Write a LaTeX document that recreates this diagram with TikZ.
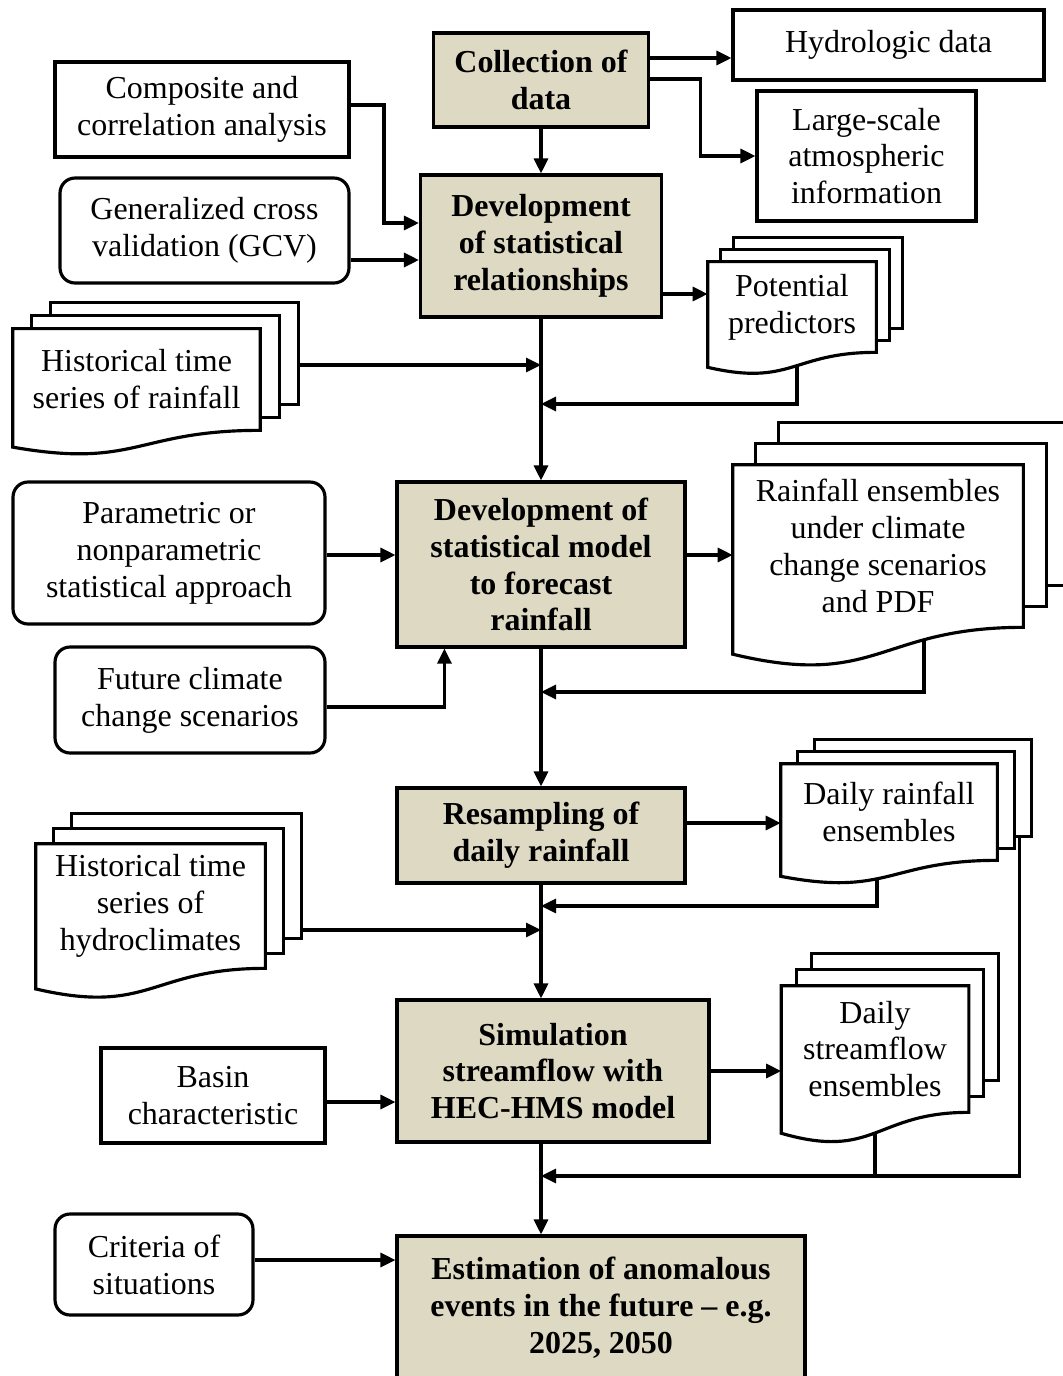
\documentclass[tikz,border=0pt]{standalone}
\usepackage{fontspec}
\setmainfont{Liberation Serif}
\usetikzlibrary{arrows.meta,calc}
\definecolor{boxtan}{RGB}{221,217,195}
\pgfdeclarelayer{back}
\pgfdeclarelayer{background}
\pgfsetlayers{back,background,main}
\newcommand{\docstack}[3]{%
  \begin{pgfonlayer}{background}
    \foreach \k in {2,1} {
      \draw [docline,fill=white] ([shift={(\k*#2,-\k*#3)}]#1.north west) rectangle ([shift={(\k*#2,-\k*#3)}]#1.south east);
    }
    \draw [docline,fill=white] let \p1=(#1.north), \p2=(#1.south), \n1={\y1-\y2} in
      (#1.south west) -- (#1.north west) -- (#1.north east) -- (#1.south east)
      .. controls (#1.south) and ($(#1.south)+(0,-0.38*\n1)$) .. ($(#1.south west)+(0,-0.165*\n1)$) -- cycle;
  \end{pgfonlayer}
  \coordinate (#1 back) at ([shift={(2*#2,-2*#3)}]#1.south east);
}
\begin{document}
\begin{tikzpicture}[x=0.02cm,y=-0.02cm,
   every node/.style={font=\fontsize{18.2}{21}\selectfont,align=center,inner sep=0pt},
   mainbox/.style={draw,fill=boxtan,line width=1.8pt,font=\fontsize{18.2}{21}\selectfont\bfseries},
   sidebox/.style={draw,fill=white,line width=1.8pt},
   roundbox/.style={sidebox,rounded corners=0.3cm},
   docbox/.style={},
   docline/.style={line width=1.8pt},
   flow/.style={line width=1.8pt,-{Triangle[length=0.3cm,width=0.28cm]}},
   link/.style={line width=1.8pt}]
   \useasboundingbox (0,0) rectangle (1062,1376);
   \node [mainbox,minimum width=4.3cm,minimum height=1.88cm] (coll) at (541,80) {Collection of\\data};
   \node [mainbox,minimum width=4.82cm,minimum height=2.84cm] (devrel) at (541,246) {Development\\of statistical\\relationships};
   \node [mainbox,minimum width=5.76cm,minimum height=3.3cm] (devmod) at (541,564.5) {Development of\\statistical model\\to forecast\\rainfall};
   \node [mainbox,minimum width=5.76cm,minimum height=1.9cm] (resamp) at (541,835.5) {Resampling of\\daily rainfall};
   \node [mainbox,minimum width=6.24cm,minimum height=2.84cm] (simul) at (553,1071) {Simulation\\streamflow with\\HEC-HMS model};
   \node [mainbox,minimum width=8.16cm,minimum height=2.88cm] (est) at (601,1308) {Estimation of anomalous\\events in the future -- e.g.\\2025, 2050};
   \node [sidebox,minimum width=6.22cm,minimum height=1.4cm] (hydro) at (888.5,45) {Hydrologic data};
   \node [sidebox,minimum width=4.38cm,minimum height=2.6cm] (atmos) at (866.5,156) {Large-scale\\atmospheric\\information};
   \node [sidebox,minimum width=5.88cm,minimum height=1.9cm] (compo) at (202,109.5) {Composite and\\correlation analysis};
   \node [roundbox,minimum width=5.78cm,minimum height=2.1cm] (gcv) at (204.5,230.5) {Generalized cross\\validation (GCV)};
   \node [roundbox,minimum width=6.24cm,minimum height=2.84cm] (param) at (169,553) {Parametric or\\nonparametric\\statistical approach};
   \node [roundbox,minimum width=5.4cm,minimum height=2.12cm] (future) at (190,700) {Future climate\\change scenarios};
   \node [sidebox,minimum width=4.48cm,minimum height=1.9cm] (basin) at (213,1095.5) {Basin\\characteristic};
   \node [roundbox,minimum width=3.96cm,minimum height=2.02cm] (crit) at (154,1264.5) {Criteria of\\situations};
   \node [docbox,minimum width=4.94cm,minimum height=2.02cm] (histrain) at (136.5,379.5) {Historical time\\series of rainfall};
   \node [docbox,minimum width=3.36cm,minimum height=1.8cm] (potpred) at (792,307) {Potential\\predictors};
   \node [docbox,minimum width=5.8cm,minimum height=3.24cm] (rainens) at (878,546) {Rainfall ensembles\\under climate\\change scenarios\\and PDF};
   \node [docbox,minimum width=4.32cm,minimum height=1.92cm] (dailyrain) at (889,812) {Daily rainfall\\ensembles};
   \node [docbox,minimum width=4.58cm,minimum height=2.48cm] (histhydro) at (150.5,906) {Historical time\\series of\\hydroclimates};
   \node [docbox,minimum width=3.74cm,minimum height=2.52cm] (dailyflow) at (875,1049) {Daily\\streamflow\\ensembles};
   \docstack{histrain}{19}{13}
   \docstack{potpred}{13}{12}
   \docstack{rainens}{23}{21}
   \docstack{dailyrain}{17}{12}
   \docstack{histhydro}{18}{15}
   \docstack{dailyflow}{15}{16}
   \coordinate (j1) at (541,365);
   \coordinate (j2) at (541,404);
   \coordinate (j3) at (541,692);
   \coordinate (j4) at (541,906);
   \coordinate (j5) at (541,930);
   \coordinate (j6) at (541,1176);
   \begin{pgfonlayer}{back}
   \draw [flow] ([xshift=0.1cm]potpred.center) |- (j2);
   \draw [flow] ([xshift=0.92cm]rainens.center) |- (j3);
   \draw [flow] ([xshift=-0.24cm]dailyrain.center) |- (j4);
   \draw [flow] ([xshift=-0.24cm]dailyrain back) |- (j6);
   \draw [link] (dailyflow.center) -- (dailyflow.center |- j6);
   \end{pgfonlayer}
   \draw [flow] (coll) -- (devrel);
   \draw [flow] (coll.east |- 0,58) -- (hydro.west |- 0,58);
   \draw [flow] (coll.east |- 0,79) -| ([xshift=-1.1cm]atmos.west) -- (atmos.west);
   \draw [flow] (compo.east |- 0,105) -| ([xshift=-0.7cm]devrel.west |- 0,223) -- (devrel.west |- 0,223);
   \draw [flow] (gcv.east |- 0,260) -- (devrel.west |- 0,260);
   \draw [flow] (devrel) -- (devmod);
   \draw [flow] (histrain back |- j1) -- (j1);
   \draw [flow] (devrel.east |- 0,294) -- (potpred.west |- 0,294);
   \draw [flow] (param.east |- 0,555) -- (devmod.west |- 0,555);
   \draw [flow] ([yshift=-0.14cm]future.east) -| ([xshift=0.98cm]devmod.south west);
   \draw [flow] (devmod.east |- 0,555) -- (rainens.west |- 0,555);
   \draw [flow] (devmod) -- (resamp);
   \draw [flow] (resamp.east |- 0,823) -- (dailyrain.west |- 0,823);
   \draw [flow] (histhydro back |- j5) -- (j5);
   \draw [flow] (resamp) -- (simul.north -| resamp);
   \draw [flow] (simul) -- (simul -| dailyflow.west);
   \draw [flow] (basin.east |- 0,1102) -- (simul.west |- 0,1102);
   \draw [flow] (simul.south -| resamp) -- (est.north -| resamp);
   \draw [flow] (crit.east |- 0,1260) -- (est.west |- 0,1260);
\end{tikzpicture}
\end{document}
